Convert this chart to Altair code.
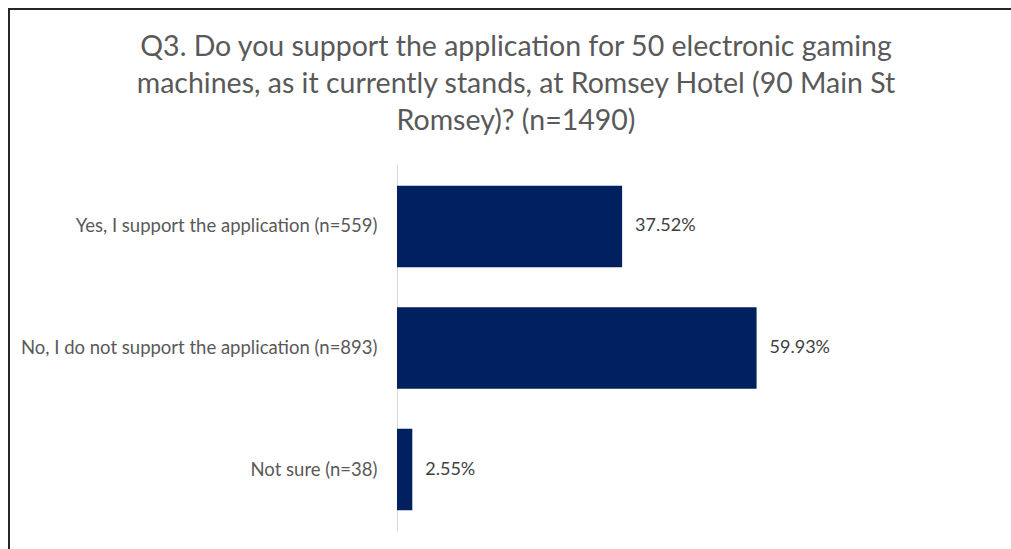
import altair as alt
import pandas as pd

categories = [
    "Yes, I support the application (n=559)",
    "No, I do not support the application (n=893)",
    "Not sure (n=38)",
]
percentages = [37.52, 59.93, 2.55]

title_lines = [
    "Q3. Do you support the application for 50 electronic gaming",
    "machines, as it currently stands, at Romsey Hotel (90 Main St",
    "Romsey)? (n=1490)",
]

df = pd.DataFrame({"category": categories, "pct": percentages})

FONT = "Lato"

y = alt.Y(
    "category:N",
    sort=categories,
    title=None,
    scale=alt.Scale(paddingInner=0.33, paddingOuter=0.17),
    axis=alt.Axis(
        labelFontSize=18.5,
        labelColor="#595959",
        labelFont=FONT,
        ticks=False,
        domainColor="#d9d9d9",
        domainWidth=1,
        labelPadding=20,
        labelLimit=400,
    ),
)
x = alt.X("pct:Q", scale=alt.Scale(domain=[0, 100]), axis=None)

base = alt.Chart(df)
bars = base.mark_bar(color="#002060").encode(x=x, y=y)
text = (
    base.transform_calculate(label="format(datum.pct, '.2f') + '%'")
    .mark_text(align="left", baseline="middle", dx=13, fontSize=18, font=FONT, color="#404040")
    .encode(x=x, y=y, text="label:N")
)

frame_df = pd.DataFrame({"k": [0]})
left_line = alt.Chart(frame_df).mark_rule(color="#262626", strokeWidth=2).encode(
    x=alt.value(-388), y=alt.value(-156), y2=alt.value(400)
)
top_line = alt.Chart(frame_df).mark_rule(color="#262626", strokeWidth=2).encode(
    x=alt.value(-389), x2=alt.value(620), y=alt.value(-156)
)

chart = (
    alt.layer(bars, text, left_line, top_line)
    .properties(
        width=600,
        height=366,
        autosize=alt.AutoSizeParams(type="none"),
        padding={"left": 397, "top": 165, "right": 14, "bottom": 18},
        view=alt.ViewBackground(stroke="transparent", strokeWidth=0),
        title=alt.Title(
            title_lines,
            fontSize=28.5,
            font=FONT,
            fontWeight="normal",
            color="#595959",
            anchor="start",
            align="center",
            dx=119,
            dy=127,
            offset=0,
            lineHeight=37,
            frame="group",
        ),
    )
    .configure_view(stroke="transparent", strokeWidth=0)
    .configure(background="white")
)

chart.save("out.html", embed_options={"renderer": "svg", "actions": False})
